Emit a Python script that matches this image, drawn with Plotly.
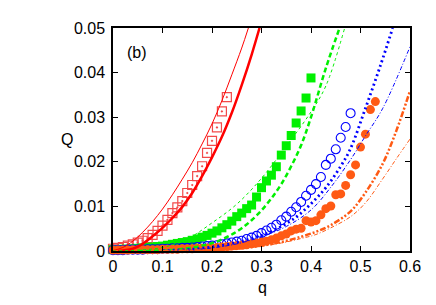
import plotly.graph_objects as go

# ---------------- data ----------------
q_red_pts = [0.00, 0.01, 0.02, 0.03, 0.04, 0.05, 0.06, 0.07, 0.08, 0.09, 0.10, 0.11,
             0.12, 0.13, 0.14, 0.15, 0.16, 0.17, 0.18, 0.19, 0.20, 0.21, 0.22, 0.23]
Q_red_pts = [0.0005, 0.0007, 0.0009, 0.0012, 0.0015, 0.0019, 0.0023, 0.0029, 0.0036, 0.0045,
             0.0057, 0.0070, 0.0085, 0.0098, 0.0112, 0.0130, 0.0148, 0.0168, 0.0190, 0.0220,
             0.0247, 0.0277, 0.0313, 0.0345]

q_green_pts = [0.00, 0.01, 0.02, 0.03, 0.04, 0.05, 0.06, 0.07, 0.08, 0.09, 0.10, 0.11, 0.12, 0.13,
               0.14, 0.15, 0.16, 0.17, 0.18, 0.19, 0.20, 0.21, 0.22, 0.23, 0.24, 0.25, 0.26, 0.27,
               0.28, 0.29, 0.30, 0.31, 0.32, 0.33, 0.34, 0.35, 0.36, 0.37, 0.38, 0.39, 0.40]
Q_green_pts = [0.0003, 0.0003, 0.0004, 0.0004, 0.0005, 0.0006, 0.0007, 0.0008, 0.0009, 0.0010,
               0.0011, 0.0013, 0.0015, 0.0017, 0.0019, 0.0021, 0.0024, 0.0027, 0.0031, 0.0035,
               0.0040, 0.0045, 0.0052, 0.0059, 0.0067, 0.0077, 0.0085, 0.0095, 0.0103, 0.0121,
               0.0142, 0.0157, 0.0170, 0.0189, 0.0215, 0.0236, 0.0259, 0.0287, 0.0314, 0.0343,
               0.0388]

q_blue_pts = [0.00, 0.01, 0.02, 0.03, 0.04, 0.05, 0.06, 0.07, 0.08, 0.09, 0.10, 0.11, 0.12,
              0.13, 0.14, 0.15, 0.16, 0.17, 0.18, 0.19, 0.20, 0.21, 0.22, 0.23, 0.24, 0.25,
              0.26, 0.27, 0.28, 0.29, 0.30, 0.31, 0.32, 0.33, 0.34, 0.35, 0.36, 0.37, 0.38,
              0.39, 0.40, 0.41, 0.42, 0.43, 0.44, 0.45, 0.46, 0.47, 0.48]
Q_blue_pts = [0.0002, 0.0002, 0.0002, 0.0003, 0.0003, 0.0003, 0.0003, 0.0004, 0.0004, 0.0004,
              0.0005, 0.0005, 0.0006, 0.0006, 0.0007, 0.0007, 0.0008, 0.0009, 0.0010, 0.0011,
              0.0012, 0.0013, 0.0015, 0.0017, 0.0019, 0.0021, 0.0023, 0.0027, 0.0030, 0.0034,
              0.0040, 0.0046, 0.0052, 0.0059, 0.0069, 0.0077, 0.0088, 0.0098, 0.0110, 0.0124,
              0.0137, 0.0150, 0.0166, 0.0193, 0.0207, 0.0228, 0.0254, 0.0278, 0.0309]

q_orange_pts = [0.00, 0.01, 0.02, 0.03, 0.04, 0.05, 0.06, 0.07, 0.08, 0.09, 0.10, 0.11, 0.12,
                0.13, 0.14, 0.15, 0.16, 0.17, 0.18, 0.19, 0.20, 0.21, 0.22, 0.23, 0.24, 0.25,
                0.26, 0.27, 0.28, 0.29, 0.30, 0.31, 0.32, 0.33, 0.34, 0.35, 0.36, 0.37, 0.38,
                0.39, 0.40, 0.41, 0.42, 0.43, 0.44, 0.45, 0.46, 0.47, 0.48, 0.49, 0.50, 0.51,
                0.52, 0.53]
Q_orange_pts = [0.0002, 0.0002, 0.0002, 0.0002, 0.0003, 0.0003, 0.0003, 0.0003, 0.0003, 0.0003,
                0.0004, 0.0004, 0.0004, 0.0004, 0.0005, 0.0005, 0.0005, 0.0006, 0.0006, 0.0007,
                0.0007, 0.0008, 0.0009, 0.0010, 0.0011, 0.0012, 0.0013, 0.0014, 0.0016, 0.0018,
                0.0020, 0.0022, 0.0025, 0.0029, 0.0034, 0.0038, 0.0045, 0.0049, 0.0051, 0.0068,
                0.0065, 0.0068, 0.0081, 0.0095, 0.0101, 0.0126, 0.0128, 0.0147, 0.0171, 0.0193,
                0.0233, 0.0262, 0.0317, 0.0335]

# theory curves
q_red_thin = [0.00, 0.02, 0.04, 0.06, 0.08, 0.10, 0.12, 0.14, 0.16, 0.18, 0.20, 0.22, 0.24, 0.26, 0.2735]
Q_red_thin = [0.0001, 0.0008, 0.0022, 0.0042, 0.0066, 0.0094, 0.0126, 0.0161, 0.0198, 0.0240,
              0.0285, 0.0337, 0.0395, 0.0455, 0.0500]
q_red_thick = [0.01, 0.02, 0.04, 0.06, 0.08, 0.10, 0.12, 0.14, 0.16, 0.18, 0.20, 0.22, 0.24, 0.26, 0.28, 0.296]
Q_red_thick = [0.0000, 0.0001, 0.0005, 0.0016, 0.0033, 0.0052, 0.0074, 0.0099, 0.0130, 0.0168,
               0.0210, 0.0256, 0.0310, 0.0372, 0.0440, 0.0500]

q_green_thin = [0.00, 0.05, 0.10, 0.15, 0.20, 0.25, 0.30, 0.35, 0.40, 0.43, 0.468]
Q_green_thin = [0.0000, 0.0002, 0.0008, 0.0027, 0.0063, 0.0105, 0.0163, 0.0235, 0.0312, 0.0370, 0.0500]
q_green_thick = [0.05, 0.10, 0.15, 0.18, 0.20, 0.22, 0.24, 0.26, 0.28, 0.30, 0.32, 0.34, 0.36, 0.38, 0.40, 0.43, 0.4577]
Q_green_thick = [0.0000, 0.0001, 0.0006, 0.0012, 0.0018, 0.0026, 0.0037, 0.0051, 0.0069, 0.0091,
                 0.0118, 0.0150, 0.0190, 0.0237, 0.0300, 0.0410, 0.0500]

q_blue_thick = [0.10, 0.15, 0.20, 0.25, 0.28, 0.31, 0.34, 0.37, 0.40, 0.43, 0.46, 0.48, 0.51, 0.54, 0.565]
Q_blue_thick = [0.0001, 0.0003, 0.0009, 0.0019, 0.0028, 0.0039, 0.0055, 0.0076, 0.0106, 0.0142,
                0.0190, 0.0230, 0.0320, 0.0415, 0.0500]
q_blue_thin = [0.10, 0.15, 0.20, 0.25, 0.30, 0.35, 0.40, 0.44, 0.48, 0.51, 0.545, 0.60]
Q_blue_thin = [0.0001, 0.0002, 0.0007, 0.0016, 0.0032, 0.0055, 0.0092, 0.0143, 0.0205, 0.0258, 0.0320, 0.0458]

q_orange_thick = [0.10, 0.20, 0.25, 0.30, 0.34, 0.38, 0.41, 0.44, 0.48, 0.51, 0.545, 0.5725, 0.60]
Q_orange_thick = [0.0000, 0.0002, 0.0005, 0.0012, 0.0020, 0.0032, 0.0043, 0.0058, 0.0089, 0.0131,
                  0.0196, 0.0270, 0.0359]
q_orange_thin = [0.10, 0.20, 0.25, 0.30, 0.34, 0.38, 0.41, 0.44, 0.48, 0.51, 0.545, 0.5725, 0.60]
Q_orange_thin = [0.0000, 0.0002, 0.0005, 0.0011, 0.0018, 0.0028, 0.0037, 0.0052, 0.0077, 0.0108,
                 0.0162, 0.0207, 0.0251]

x_ticks = [0, 0.1, 0.2, 0.3, 0.4, 0.5, 0.6]
x_labels = ["0", "0.1", "0.2", "0.3", "0.4", "0.5", "0.6"]
y_ticks = [0, 0.01, 0.02, 0.03, 0.04, 0.05]
y_labels = ["0", "0.01", "0.02", "0.03", "0.04", "0.05"]

RED = "#ff0000"
GREEN = "#00f000"
BLUE = "#0000ff"
ORANGE = "#ff5a14"
FONT = "Liberation Sans, Arial, sans-serif"

fig = go.Figure()

# data points
fig.add_trace(go.Scatter(x=q_red_pts, y=Q_red_pts, mode="markers", cliponaxis=False,
                         marker=dict(symbol="square-open-dot", size=9, color="#f24a4a",
                                     line=dict(width=1.2, color="#f24a4a"))))
fig.add_trace(go.Scatter(x=q_green_pts, y=Q_green_pts, mode="markers", cliponaxis=False,
                         marker=dict(symbol="square", size=9, color=GREEN, line=dict(width=0))))
fig.add_trace(go.Scatter(x=q_blue_pts, y=Q_blue_pts, mode="markers", cliponaxis=False,
                         marker=dict(symbol="circle-open", size=9, color=BLUE, line=dict(width=1.1, color=BLUE))))
fig.add_trace(go.Scatter(x=q_orange_pts, y=Q_orange_pts, mode="markers", cliponaxis=False,
                         marker=dict(symbol="circle", size=9, color=ORANGE, line=dict(width=0))))

# curves
fig.add_trace(go.Scatter(x=q_red_thin, y=Q_red_thin, mode="lines",
                         line=dict(color=RED, width=1, shape="spline")))
fig.add_trace(go.Scatter(x=q_red_thick, y=Q_red_thick, mode="lines",
                         line=dict(color=RED, width=2.5, shape="spline")))
fig.add_trace(go.Scatter(x=q_green_thin, y=Q_green_thin, mode="lines",
                         line=dict(color=GREEN, width=1, dash="3px,3px", shape="spline")))
fig.add_trace(go.Scatter(x=q_green_thick, y=Q_green_thick, mode="lines",
                         line=dict(color=GREEN, width=2.5, dash="5px,3px", shape="spline")))
fig.add_trace(go.Scatter(x=q_blue_thick, y=Q_blue_thick, mode="lines",
                         line=dict(color=BLUE, width=2.8, dash="2px,3px", shape="spline")))
fig.add_trace(go.Scatter(x=q_blue_thin, y=Q_blue_thin, mode="lines",
                         line=dict(color=BLUE, width=1, dash="4px,2px,1px,2px", shape="spline")))
fig.add_trace(go.Scatter(x=q_orange_thick, y=Q_orange_thick, mode="lines",
                         line=dict(color=ORANGE, width=2.5, dash="6px,2px,2px,2px,2px,2px", shape="spline")))
fig.add_trace(go.Scatter(x=q_orange_thin, y=Q_orange_thin, mode="lines",
                         line=dict(color=ORANGE, width=1, dash="4px,2px,1px,2px", shape="spline")))

axis_common = dict(showgrid=False, zeroline=False, showline=True, linecolor="black", linewidth=1.5,
                   mirror="ticks", ticks="inside", ticklen=5, tickwidth=1.2, tickcolor="black",
                   tickfont=dict(family=FONT, size=16, color="black"))

# page body has an 8px margin: the figure is sized so the plot lands where the reference has it
fig.update_layout(
    width=428, height=297,
    margin=dict(l=105, r=26, t=12, b=54),
    paper_bgcolor="white", plot_bgcolor="white",
    showlegend=False,
    font=dict(family=FONT, size=16, color="black"),
    xaxis=dict(range=[0, 0.6], tickvals=x_ticks, ticktext=x_labels, **axis_common),
    yaxis=dict(range=[0, 0.05], tickvals=y_ticks, ticktext=y_labels, ticklabelstandoff=3,
               **axis_common),
    annotations=[
        dict(text="(b)", xref="paper", yref="paper", x=0.08, y=0.892,
             showarrow=False, font=dict(size=16), xanchor="center", yanchor="middle"),
        dict(text="Q", xref="paper", yref="paper", x=-0.155, y=0.502,
             showarrow=False, font=dict(size=16), xanchor="center", yanchor="middle"),
        dict(text="q", xref="paper", yref="paper", x=0.502, y=-0.165,
             showarrow=False, font=dict(size=16), xanchor="center", yanchor="middle"),
    ],
)

fig.write_html("out.html")
